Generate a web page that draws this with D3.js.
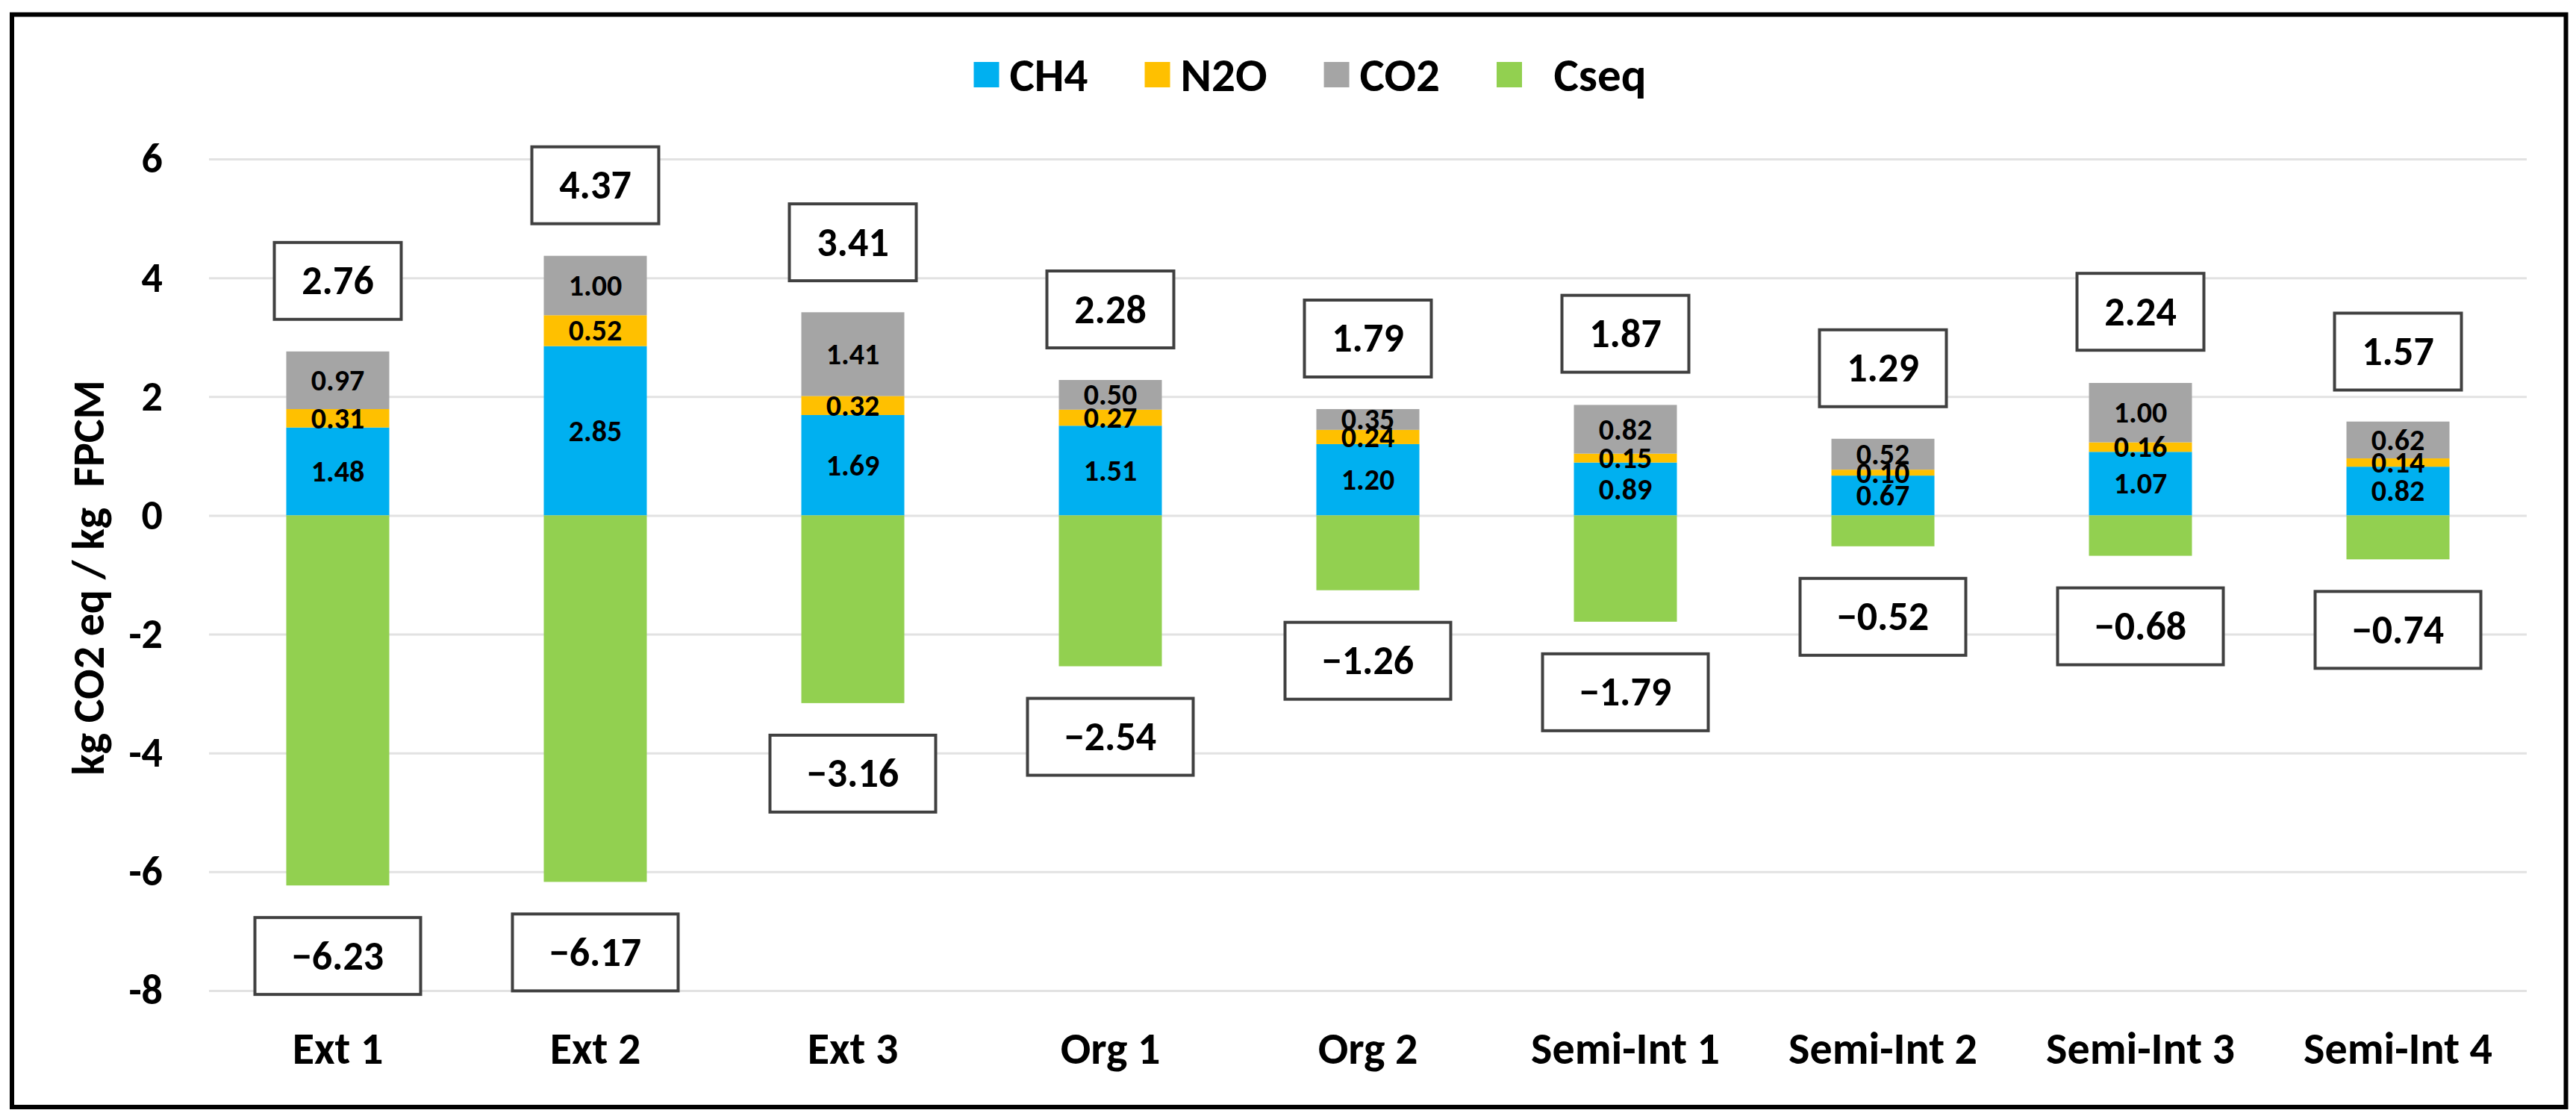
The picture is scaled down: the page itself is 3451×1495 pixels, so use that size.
<!DOCTYPE html>
<html>
<head>
<meta charset="utf-8">
<script src="https://cdn.jsdelivr.net/npm/d3@7/dist/d3.min.js"></script>
<style>
  html, body { margin: 0; padding: 0; background: #ffffff; }
  text { font-family: "Liberation Sans Narrow", "Arial Narrow", Carlito, Calibri, sans-serif; font-weight: bold; fill: #000000; }
</style>
</head>
<body>
<div class="chart"></div>
<script>
/* Farm systems on the x axis */
var CATEGORIES = ["Ext 1", "Ext 2", "Ext 3", "Org 1", "Org 2",
                  "Semi-Int 1", "Semi-Int 2", "Semi-Int 3", "Semi-Int 4"];

/* kg CO2 eq / kg FPCM for each emission source */
var CH4 = [1.48, 2.85, 1.69, 1.51, 1.20, 0.89, 0.67, 1.07, 0.82];
var N2O = [0.31, 0.52, 0.32, 0.27, 0.24, 0.15, 0.10, 0.16, 0.14];
var CO2 = [0.97, 1.00, 1.41, 0.50, 0.35, 0.82, 0.52, 1.00, 0.62];
var CSEQ = [-6.23, -6.17, -3.16, -2.54, -1.26, -1.79, -0.52, -0.68, -0.74];

/* Totals written in the boxes above the bars */
var TOTALS = [2.76, 4.37, 3.41, 2.28, 1.79, 1.87, 1.29, 2.24, 1.57];

var SERIES_KEYS = ["CH4", "N2O", "CO2", "Cseq"];
var LEGEND_LABELS = ["CH4", "N2O", "CO2", "  Cseq"];
var Y_TICKS = [-8, -6, -4, -2, 0, 2, 4, 6];

var COLORS = {
  CH4: "#00B0F0",
  N2O: "#FFC000",
  CO2: "#A5A5A5",
  Cseq: "#92D050"
};

var WIDTH = 3451;
var HEIGHT = 1495;

/* Plot area, as laid out in the original figure */
var PLOT = { left: 280, right: 3385, top: 213, bottom: 1327 };

var BOX_GAP = 43;
var BOX_HEIGHT = 103;
var LEGEND_ITEM_GAP = 76;

function drawChart() {
  var rows = CATEGORIES.map(function toRow(name, i) {
    return { name: name, CH4: CH4[i], N2O: N2O[i], CO2: CO2[i], Cseq: CSEQ[i] };
  });

  var x = d3.scaleBand()
            .domain(CATEGORIES)
            .range([PLOT.left, PLOT.right])
            .paddingInner(0.6)
            .paddingOuter(0.3);

  var y = d3.scaleLinear()
            .domain([-8, 6])
            .range([PLOT.bottom, PLOT.top]);

  var stacked = d3.stack()
                  .keys(SERIES_KEYS)
                  .offset(d3.stackOffsetDiverging)(rows);

  var fmt = d3.format(".2f");

  var svg = d3.select("div.chart")
              .append("svg")
              .attr("width", WIDTH)
              .attr("height", HEIGHT);

  svg.append("rect")
     .attr("width", WIDTH)
     .attr("height", HEIGHT)
     .attr("fill", "#ffffff");

  /* Gridlines and y tick labels */
  var yAxis = d3.axisLeft(y)
                .tickValues(Y_TICKS)
                .tickSize(-(PLOT.right - PLOT.left))
                .tickPadding(62)
                .tickFormat(d3.format("d"));

  var gy = svg.append("g")
              .attr("transform", "translate(" + PLOT.left + ",0)")
              .call(yAxis);
  gy.select(".domain").remove();
  gy.selectAll(".tick line")
    .attr("stroke", "#e2e2e2")
    .attr("stroke-width", 3);
  gy.selectAll(".tick text")
    .attr("font-size", 56)
    .attr("font-family", null)
    .text(function tickText(d) { return d < 0 ? "-" + Math.abs(d) : String(d); });

  /* Category labels */
  var xAxis = d3.axisBottom(x).tickSize(0).tickPadding(0);
  var gx = svg.append("g")
              .attr("transform", "translate(0,1425)")
              .call(xAxis);
  gx.select(".domain").remove();
  gx.selectAll(".tick text")
    .attr("font-size", 60)
    .attr("font-family", null)
    .attr("dy", null)
    .attr("y", 0);

  /* Stacked bars */
  var layers = svg.append("g")
                  .selectAll("g")
                  .data(stacked)
                  .join("g")
                  .attr("fill", function layerFill(s) { return COLORS[s.key]; });

  layers.selectAll("rect")
        .data(function segs(s) { return s; })
        .join("rect")
        .attr("x", function segX(d) { return x(d.data.name); })
        .attr("width", x.bandwidth())
        .attr("y", function segY(d) { return y(Math.max(d[0], d[1])); })
        .attr("height", function segH(d) { return Math.abs(y(d[0]) - y(d[1])); });

  /* Value labels inside the positive segments */
  stacked.filter(function notCseq(s) { return s.key !== "Cseq"; })
         .forEach(function eachLayer(s) {
           svg.append("g")
              .selectAll("text")
              .data(s)
              .join("text")
              .attr("x", function lx(d) { return x(d.data.name) + x.bandwidth() / 2; })
              .attr("y", function ly(d) { return (y(d[0]) + y(d[1])) / 2; })
              .attr("text-anchor", "middle")
              .attr("dominant-baseline", "central")
              .attr("font-size", 40)
              .text(function lt(d) { return fmt(d.data[s.key]); });
         });

  /* Boxed totals above and carbon sequestration below */
  function drawBox(cx, cy, w, label) {
    var g = svg.append("g");
    g.append("rect")
     .attr("x", cx - w / 2)
     .attr("y", cy - BOX_HEIGHT / 2)
     .attr("width", w)
     .attr("height", BOX_HEIGHT)
     .attr("fill", "#ffffff")
     .attr("stroke", "#404040")
     .attr("stroke-width", 4);
    g.append("text")
     .attr("x", cx)
     .attr("y", cy)
     .attr("text-anchor", "middle")
     .attr("dominant-baseline", "central")
     .attr("font-size", 54)
     .text(label);
  }

  CATEGORIES.forEach(function eachCat(name, i) {
    var cx = x(name) + x.bandwidth() / 2;
    drawBox(cx, y(TOTALS[i]) - BOX_GAP - BOX_HEIGHT / 2, 170, fmt(TOTALS[i]));
    drawBox(cx, y(CSEQ[i]) + BOX_GAP + BOX_HEIGHT / 2, 222, fmt(CSEQ[i]));
  });

  /* Y axis title */
  svg.append("text")
     .attr("transform", "translate(118,774) rotate(-90)")
     .attr("text-anchor", "middle")
     .attr("dominant-baseline", "central")
     .attr("font-size", 60)
     .style("white-space", "pre")
     .text("kg CO2 eq / kg  FPCM");

  /* Legend, measured then centred */
  var legend = svg.append("g");
  var cursor = 0;
  var swatch = 34;
  LEGEND_LABELS.forEach(function eachItem(label, i) {
    var item = legend.append("g").attr("transform", "translate(" + cursor + ",0)");
    item.append("rect")
        .attr("x", 0)
        .attr("y", -swatch / 2)
        .attr("width", swatch)
        .attr("height", swatch)
        .attr("fill", COLORS[SERIES_KEYS[i]]);
    var t = item.append("text")
                .attr("x", swatch + 14)
                .attr("y", 0)
                .attr("dominant-baseline", "central")
                .attr("font-size", 63)
                .style("white-space", "pre")
                .text(label);
    cursor += swatch + 14 + t.node().getComputedTextLength() + LEGEND_ITEM_GAP;
  });
  var legendWidth = cursor - LEGEND_ITEM_GAP;
  legend.attr("transform", "translate(" + (1755 - legendWidth / 2) + ",100)");

  /* Outer frame */
  svg.append("rect")
     .attr("x", 16)
     .attr("y", 19.5)
     .attr("width", 3421.5)
     .attr("height", 1463.5)
     .attr("fill", "none")
     .attr("stroke", "#000000")
     .attr("stroke-width", 6);
}

document.addEventListener("DOMContentLoaded", drawChart);
</script>
</body>
</html>
